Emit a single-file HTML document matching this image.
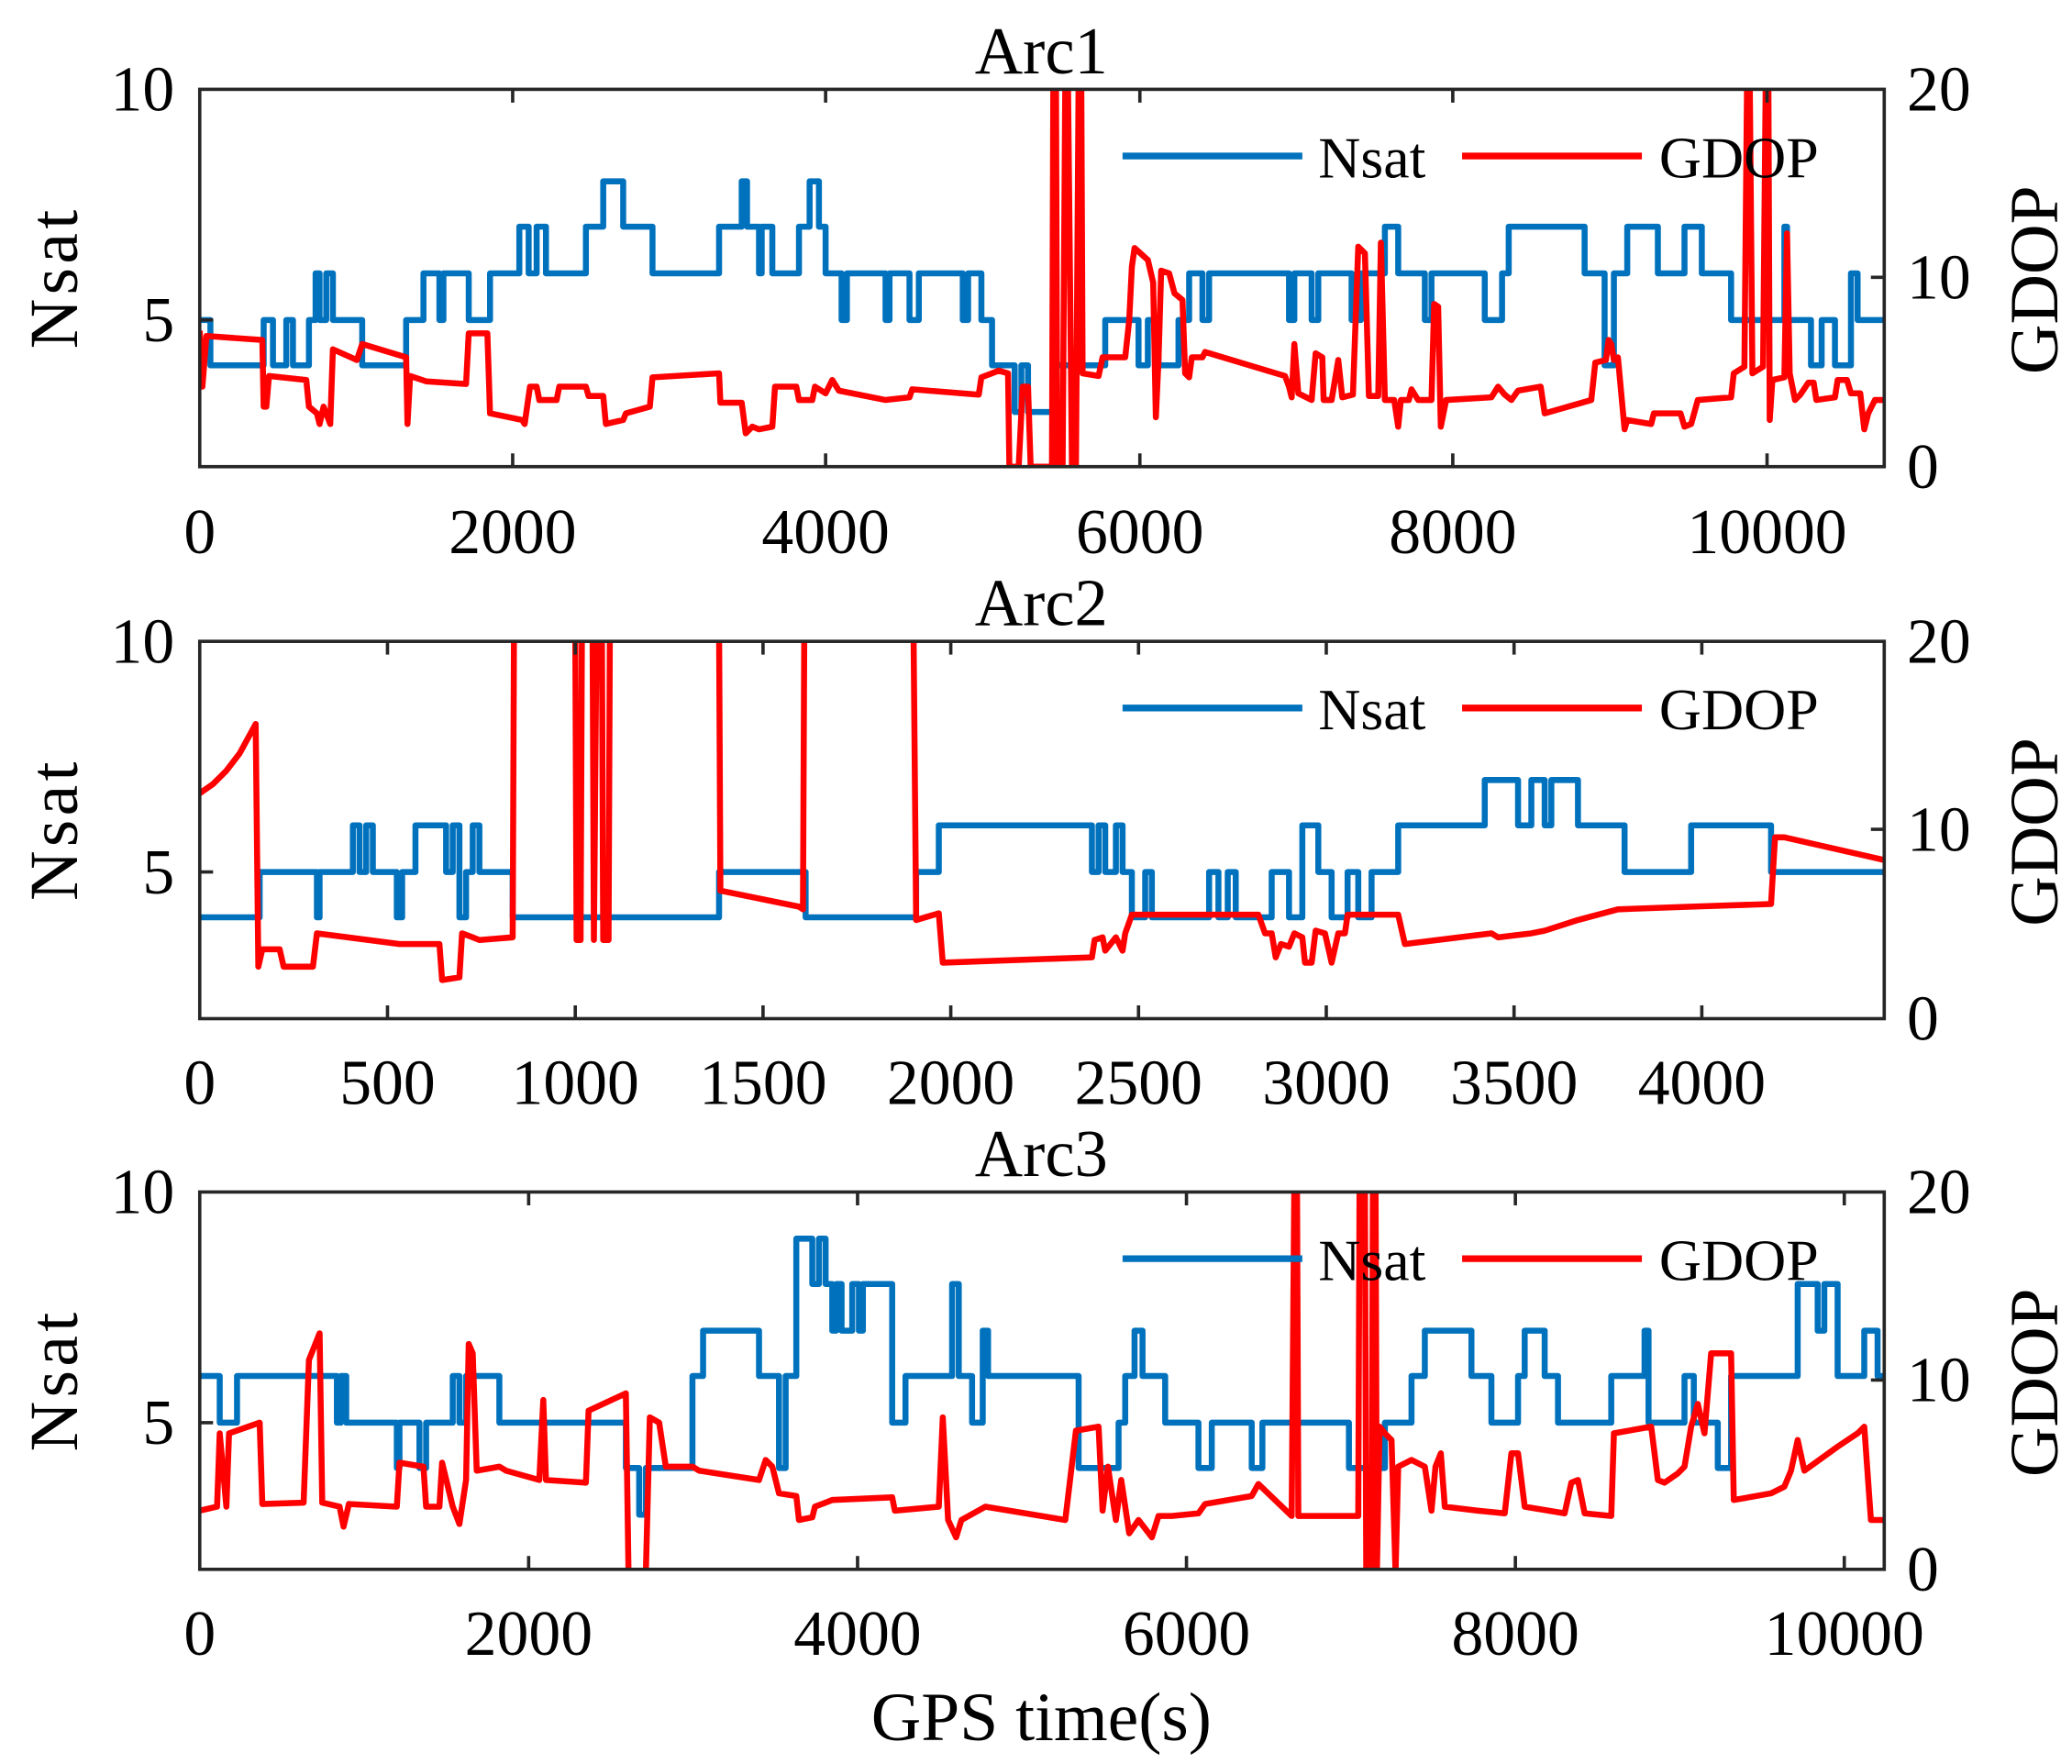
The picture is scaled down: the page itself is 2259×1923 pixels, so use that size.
<!DOCTYPE html>
<html><head><meta charset="utf-8"><style>html,body{margin:0;padding:0;background:#fff}svg{display:block}</style></head>
<body>
<svg width="2259" height="1923" viewBox="0 0 1556 1323" preserveAspectRatio="none" xmlns="http://www.w3.org/2000/svg" font-family="Liberation Serif, serif" fill="#000">
<defs>
<clipPath id="c1"><rect x="150" y="67" width="1265" height="283"/></clipPath>
<clipPath id="c2"><rect x="150" y="481" width="1265" height="283"/></clipPath>
<clipPath id="c3"><rect x="150" y="894" width="1265" height="283"/></clipPath>
</defs>
<rect width="1556" height="1323" fill="#fff"/>

<!-- Panel 1 -->
<text x="782" y="55" font-size="50" text-anchor="middle">Arc1</text>
<g clip-path="url(#c1)" fill="none" stroke-width="4.5" stroke-linejoin="round">
<path stroke="#0072BD" d="M150 240 H158 V274 H198 V240 H205 V274 H215 V240 H220 V274 H232 V240 H237 V205 H240 V240 H245 V205 H250 V240 H272 V274 H305 V240 H318 V205 H330 V240 H333 V205 H352 V240 H368 V205 H390 V170 H397 V205 H403 V170 H410 V205 H440 V170 H453 V136 H468 V170 H490 V205 H540 V170 H557 V136 H561 V170 H570 V205 H572 V170 H580 V205 H600 V170 H608 V136 H615 V170 H620 V205 H632 V240 H636 V205 H665 V240 H668 V205 H683 V240 H690 V205 H723 V240 H727 V205 H737 V240 H745 V274 H762 V309 H767 V274 H772 V309 H793 V274 H830 V240 H855 V274 H862 V240 H870 V274 H885 V240 H893 V205 H903 V240 H908 V205 H968 V240 H972 V205 H985 V240 H990 V205 H1015 V240 H1022 V205 H1040 V170 H1050 V205 H1070 V240 H1075 V205 H1115 V240 H1128 V205 H1133 V170 H1190 V205 H1205 V274 H1212 V205 H1222 V170 H1245 V205 H1265 V170 H1278 V205 H1300 V240 H1340 V170 H1342 V240 H1360 V274 H1368 V240 H1378 V274 H1390 V205 H1395 V240 H1415"/>
<polyline stroke="#FF0000" points="150,248 152,290 155,252 197,255 198,305 200,305 202,282 230,285 232,305 238,310 240,318 243,305 248,318 250,262 268,270 272,258 305,268 306,318 308,282 320,286 350,288 352,250 366,250 368,310 392,315 394,318 398,290 403,290 405,300 418,300 420,290 440,290 442,297 453,297 455,318 468,315 470,310 488,305 490,283 540,280 541,302 557,302 560,325 565,320 570,322 580,320 582,290 598,290 600,300 610,300 612,290 620,295 625,285 630,293 665,300 683,298 685,292 735,296 737,283 745,280 750,278 757,280 758,350 765,350 768,290 772,290 774,350 790,350 791,60 793,60 794,350 798,350 800,60 802,60 805,350 808,350 810,60 812,60 813,280 825,282 828,268 845,268 848,240 850,200 852,186 862,195 866,212 868,313 870,270 872,203 878,205 882,220 888,225 890,280 893,283 895,268 903,268 905,264 965,282 968,290 970,298 972,258 975,295 985,300 988,265 993,268 994,300 1000,300 1005,270 1008,298 1016,296 1020,185 1025,190 1028,297 1035,297 1037,182 1040,300 1047,300 1050,320 1052,300 1058,300 1060,292 1065,300 1075,300 1077,228 1080,230 1082,320 1086,300 1120,298 1125,290 1130,296 1135,300 1140,293 1157,290 1160,310 1195,300 1198,272 1206,270 1208,255 1210,258 1212,270 1215,268 1220,322 1222,315 1240,318 1242,310 1262,310 1265,320 1270,318 1275,300 1300,298 1302,280 1310,275 1312,60 1314,60 1316,280 1324,275 1326,60 1328,60 1329,315 1331,285 1340,283 1342,175 1344,280 1348,300 1352,296 1358,287 1362,287 1364,300 1378,298 1380,285 1387,285 1390,295 1397,295 1400,322 1403,310 1408,300 1415,300"/>
</g>
<g stroke="#262626" stroke-width="2.5" fill="none">
<rect x="150" y="67" width="1265" height="283"/>
<path d="M385 67v10M620 67v10M856 67v10M1091 67v10M1327 67v10M385 350v-10M620 350v-10M856 350v-10M1091 350v-10M1327 350v-10M150 240h10M1415 208h-10"/>
</g>
<g font-size="48" text-anchor="middle">
<text x="150" y="415">0</text><text x="385" y="415">2000</text><text x="620" y="415">4000</text><text x="856" y="415">6000</text><text x="1091" y="415">8000</text><text x="1327" y="415">10000</text>
</g>
<g font-size="48" text-anchor="end"><text x="131" y="83">10</text><text x="131" y="256">5</text></g>
<g font-size="48"><text x="1432" y="83">20</text><text x="1432" y="224">10</text><text x="1432" y="366">0</text></g>
<text transform="translate(58,208) rotate(-90)" font-size="52" text-anchor="middle" letter-spacing="3">Nsat</text>
<text transform="translate(1545,210) rotate(-90)" font-size="52" text-anchor="middle">GDOP</text>
<line x1="843" y1="117" x2="978" y2="117" stroke="#0072BD" stroke-width="5"/>
<text x="990" y="133" font-size="44">Nsat</text>
<line x1="1098" y1="117" x2="1233" y2="117" stroke="#FF0000" stroke-width="5"/>
<text x="1246" y="133" font-size="44">GDOP</text>

<!-- Panel 2 -->
<text x="782" y="469" font-size="50" text-anchor="middle">Arc2</text>
<g clip-path="url(#c2)" fill="none" stroke-width="4.5" stroke-linejoin="round">
<path stroke="#0072BD" d="M150 688 H195 V654 H238 V688 H240 V654 H265 V619 H270 V654 H275 V619 H280 V654 H298 V688 H302 V654 H312 V619 H335 V654 H340 V619 H345 V688 H350 V654 H355 V619 H360 V654 H385 V688 H540 V654 H605 V688 H688 V654 H705 V619 H820 V654 H825 V619 H830 V654 H838 V619 H843 V654 H850 V688 H860 V654 H865 V688 H908 V654 H915 V688 H922 V654 H928 V688 H955 V654 H968 V688 H978 V619 H990 V654 H1000 V688 H1012 V654 H1020 V688 H1030 V654 H1050 V619 H1115 V585 H1140 V619 H1150 V585 H1160 V619 H1165 V585 H1185 V619 H1220 V654 H1270 V619 H1330 V654 H1415"/>
<polyline stroke="#FF0000" points="150,595 160,588 170,578 180,565 192,543 194,725 197,712 210,712 213,725 235,725 238,700 300,708 330,708 332,735 345,733 347,700 355,703 360,705 385,703 386,470 432,470 433,705 436,705 437,470 445,470 446,705 448,470 452,470 453,705 457,705 458,470 540,470 541,668 600,680 603,682 604,470 686,470 688,690 705,685 708,722 820,718 822,705 828,703 830,713 838,703 843,713 845,700 850,686 945,686 950,700 955,700 958,718 962,708 968,710 972,700 978,703 980,722 985,722 988,698 995,700 1000,722 1005,700 1010,700 1012,686 1050,686 1055,708 1120,700 1125,703 1150,700 1160,698 1185,690 1215,682 1270,680 1330,678 1333,628 1340,628 1415,645"/>
</g>
<g stroke="#262626" stroke-width="2.5" fill="none">
<rect x="150" y="481" width="1265" height="283"/>
<path d="M291 481v10M432 481v10M573 481v10M714 481v10M855 481v10M996 481v10M1137 481v10M1278 481v10M291 764v-10M432 764v-10M573 764v-10M714 764v-10M855 764v-10M996 764v-10M1137 764v-10M1278 764v-10M150 654h10M1415 622h-10"/>
</g>
<g font-size="48" text-anchor="middle">
<text x="150" y="828">0</text><text x="291" y="828">500</text><text x="432" y="828">1000</text><text x="573" y="828">1500</text><text x="714" y="828">2000</text><text x="855" y="828">2500</text><text x="996" y="828">3000</text><text x="1137" y="828">3500</text><text x="1278" y="828">4000</text>
</g>
<g font-size="48" text-anchor="end"><text x="131" y="497">10</text><text x="131" y="670">5</text></g>
<g font-size="48"><text x="1432" y="497">20</text><text x="1432" y="638">10</text><text x="1432" y="780">0</text></g>
<text transform="translate(58,622) rotate(-90)" font-size="52" text-anchor="middle" letter-spacing="3">Nsat</text>
<text transform="translate(1545,624) rotate(-90)" font-size="52" text-anchor="middle">GDOP</text>
<line x1="843" y1="531" x2="978" y2="531" stroke="#0072BD" stroke-width="5"/>
<text x="990" y="547" font-size="44">Nsat</text>
<line x1="1098" y1="531" x2="1233" y2="531" stroke="#FF0000" stroke-width="5"/>
<text x="1246" y="547" font-size="44">GDOP</text>

<!-- Panel 3 -->
<text x="782" y="882" font-size="50" text-anchor="middle">Arc3</text>
<g clip-path="url(#c3)" fill="none" stroke-width="4.5" stroke-linejoin="round">
<path stroke="#0072BD" d="M150 1032 H165 V1067 H178 V1032 H253 V1067 H256 V1032 H260 V1067 H298 V1101 H300 V1067 H315 V1101 H320 V1067 H340 V1032 H345 V1067 H350 V1032 H375 V1067 H470 V1101 H480 V1136 H485 V1101 H520 V1032 H528 V998 H570 V1032 H585 V1101 H590 V1032 H598 V929 H610 V963 H615 V929 H620 V963 H625 V998 H628 V963 H632 V998 H640 V963 H645 V998 H648 V963 H670 V1067 H680 V1032 H715 V963 H720 V1032 H730 V1067 H738 V998 H742 V1032 H810 V1101 H840 V1067 H845 V1032 H852 V998 H858 V1032 H875 V1067 H900 V1101 H910 V1067 H940 V1101 H948 V1067 H1013 V1101 H1040 V1067 H1060 V1032 H1070 V998 H1105 V1032 H1120 V1067 H1140 V1032 H1145 V998 H1160 V1032 H1170 V1067 H1210 V1032 H1235 V998 H1238 V1067 H1265 V1032 H1272 V1067 H1290 V1101 H1300 V1032 H1350 V963 H1365 V998 H1370 V963 H1380 V1032 H1400 V998 H1410 V1032 H1415"/>
<polyline stroke="#FF0000" points="150,1133 163,1130 165,1075 170,1130 172,1075 195,1067 197,1128 228,1127 232,1020 240,1000 242,1127 255,1130 258,1145 262,1128 298,1130 300,1097 318,1100 320,1130 330,1130 332,1097 340,1130 345,1143 350,1110 352,1008 355,1015 358,1103 375,1100 380,1103 405,1110 408,1050 410,1110 440,1112 442,1058 470,1045 472,1180 485,1180 488,1063 495,1067 500,1100 520,1100 525,1103 570,1110 575,1095 580,1100 585,1120 598,1122 600,1140 610,1138 612,1130 620,1127 625,1125 670,1123 672,1133 705,1130 708,1063 712,1140 718,1153 722,1140 740,1130 800,1140 808,1073 825,1070 828,1133 832,1100 838,1140 842,1110 848,1150 855,1140 865,1153 870,1137 880,1137 900,1135 905,1128 940,1122 945,1113 970,1137 972,885 974,885 975,1137 1020,1137 1021,885 1025,885 1026,1180 1030,1180 1031,885 1033,885 1034,1180 1036,1070 1040,1075 1045,1080 1048,1180 1050,1100 1060,1095 1070,1100 1075,1133 1078,1100 1082,1090 1085,1130 1110,1133 1130,1135 1135,1090 1140,1090 1145,1130 1175,1135 1180,1112 1185,1110 1190,1135 1210,1137 1212,1075 1240,1070 1245,1110 1250,1112 1260,1105 1265,1100 1270,1070 1275,1053 1280,1075 1285,1015 1300,1015 1302,1125 1330,1120 1340,1115 1345,1103 1350,1080 1355,1103 1380,1085 1395,1075 1400,1070 1405,1140 1415,1140"/>
</g>
<g stroke="#262626" stroke-width="2.5" fill="none">
<rect x="150" y="894" width="1265" height="283"/>
<path d="M397 894v10M644 894v10M891 894v10M1138 894v10M1385 894v10M397 1177v-10M644 1177v-10M891 1177v-10M1138 1177v-10M1385 1177v-10M150 1067h10M1415 1035h-10"/>
</g>
<g font-size="48" text-anchor="middle">
<text x="150" y="1241">0</text><text x="397" y="1241">2000</text><text x="644" y="1241">4000</text><text x="891" y="1241">6000</text><text x="1138" y="1241">8000</text><text x="1385" y="1241">10000</text>
</g>
<g font-size="48" text-anchor="end"><text x="131" y="910">10</text><text x="131" y="1083">5</text></g>
<g font-size="48"><text x="1432" y="910">20</text><text x="1432" y="1051">10</text><text x="1432" y="1193">0</text></g>
<text transform="translate(58,1035) rotate(-90)" font-size="52" text-anchor="middle" letter-spacing="3">Nsat</text>
<text transform="translate(1545,1037) rotate(-90)" font-size="52" text-anchor="middle">GDOP</text>
<line x1="843" y1="944" x2="978" y2="944" stroke="#0072BD" stroke-width="5"/>
<text x="990" y="960" font-size="44">Nsat</text>
<line x1="1098" y1="944" x2="1233" y2="944" stroke="#FF0000" stroke-width="5"/>
<text x="1246" y="960" font-size="44">GDOP</text>

<text x="782" y="1305" font-size="52" text-anchor="middle">GPS time(s)</text>
</svg>
</body></html>
